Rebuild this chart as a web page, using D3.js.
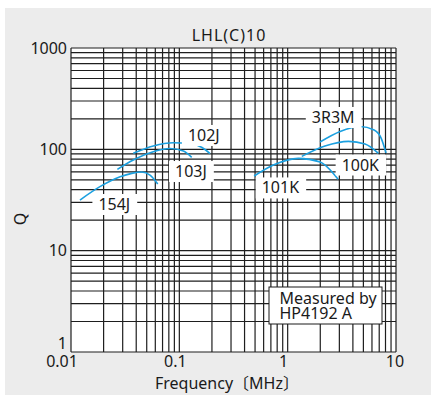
<!DOCTYPE html>
<html>
<head>
<meta charset="utf-8">
<script src="https://cdn.jsdelivr.net/npm/d3@7"></script>
<style>
  body { margin: 0; background: #fff; }
  text { font-family: "Noto Sans", "Noto Sans CJK JP", sans-serif; fill: #1a1a1a; }
</style>
</head>
<body>
<div id="chart"></div>
<script>
// axis ticks (labelled)
const freqTicks = [0.01, 0.1, 1, 10];
const freqTickText = ["0.01", "0.1", "1", "10"];
const qTicks = [1, 10, 100, 1000];
const qTickText = ["1", "10", "100", "1000"];

// curves: frequency (MHz) and Q
const names = ["154J", "103J", "102J", "101K", "100K", "3R3M"];
const f154J = [0.0121, 0.0185, 0.0284, 0.0364, 0.045, 0.0536, 0.0632];
const q154J = [31.6, 42.8, 53.6, 57.9, 59.7, 55.7, 45.5];
const f103J = [0.0268, 0.0376, 0.0575, 0.082, 0.109, 0.130];
const q103J = [63.5, 78.4, 94.7, 101.8, 96.2, 83.4];
const f102J = [0.0376, 0.0575, 0.088, 0.1256, 0.162, 0.192];
const q102J = [91.3, 107.8, 116.1, 114.1, 104.2, 90.9];
const f101K = [0.49, 0.738, 1.256, 1.99, 2.92];
const q101K = [54.5, 70.0, 81.5, 74.9, 50.6];
const f100K = [1.35, 2.21, 3.64, 5.18, 6.88];
const q100K = [85.2, 107.8, 119.9, 112.8, 91.3];
const f3R3M = [1.99, 3.05, 4.66, 6.28, 7.29, 8.10];
const q3R3M = [118.0, 149.9, 167.8, 155.0, 129.2, 91.9];

// where each curve name sits (frequency, Q of the text's left baseline)
const labelF = [0.0179, 0.0912, 0.120, 0.576, 3.15, 1.67];
const labelQ = [25.2, 53.3, 120.9, 36.7, 61.8, 182];

const seriesF = [f154J, f103J, f102J, f101K, f100K, f3R3M];
const seriesQ = [q154J, q103J, q102J, q101K, q100K, q3R3M];

const W = 431, H = 397;
const svg = d3.select("#chart").append("svg")
    .attr("width", W)
    .attr("height", H);

// grey panel
svg.append("rect")
    .attr("x", 5).attr("y", 8)
    .attr("width", W - 5).attr("height", 387)
    .attr("fill", "#ececec");

var x = d3.scaleLog().domain([0.01, 10]).range([71, 396]);
var y = d3.scaleLog().domain([1, 1000]).range([352, 48]);

// plot area
svg.append("rect")
    .attr("x", x(0.01)).attr("y", y(1000))
    .attr("width", x(10) - x(0.01))
    .attr("height", y(1) - y(1000))
    .attr("fill", "#fff");

// grid
var grid = svg.append("g").attr("stroke", "#1e1e1e").attr("stroke-width", 1.2);
grid.selectAll("line.v")
    .data(x.ticks())
    .enter().append("line")
    .attr("class", "v")
    .attr("x1", d => x(d)).attr("x2", d => x(d))
    .attr("y1", y(1000)).attr("y2", y(1));
grid.selectAll("line.h")
    .data(y.ticks())
    .enter().append("line")
    .attr("class", "h")
    .attr("x1", x(0.01)).attr("x2", x(10))
    .attr("y1", d => y(d)).attr("y2", d => y(d));

// curves
var line = d3.line()
    .x(d => x(d[0]))
    .y(d => y(d[1]))
    .curve(d3.curveMonotoneX);

names.forEach(function (n, i) {
    var pts = seriesF[i].map((f, j) => [f, seriesQ[i][j]]);
    svg.append("path")
        .datum(pts)
        .attr("d", line)
        .attr("fill", "none")
        .attr("stroke", "#1ba0e0")
        .attr("stroke-width", 1.6);
});

// curve labels on white boxes
names.forEach(function (n, i) {
    var g = svg.append("g");
    var t = g.append("text")
        .attr("x", x(labelF[i]))
        .attr("y", y(labelQ[i]))
        .attr("font-size", 16)
        .text(n);
    var b = t.node().getBBox();
    g.insert("rect", "text")
        .attr("x", b.x - 6).attr("y", b.y + 1)
        .attr("width", b.width + 13).attr("height", b.height - 1)
        .attr("fill", "#fff");
});

// axis labels
svg.selectAll("text.xt")
    .data(freqTicks)
    .enter().append("text")
    .attr("class", "xt")
    .attr("x", (d, i) => x(d) + [-9, -4, -4, -1][i])
    .attr("y", 367)
    .attr("text-anchor", "middle")
    .attr("font-size", 16)
    .text((d, i) => freqTickText[i]);

svg.selectAll("text.yt")
    .data(qTicks)
    .enter().append("text")
    .attr("class", "yt")
    .attr("x", 67)
    .attr("y", d => d === 1 ? y(d) - 3.5 : y(d) + 5.5)
    .attr("text-anchor", "end")
    .attr("font-size", 16)
    .text((d, i) => qTickText[i]);

svg.append("text")
    .attr("x", 229).attr("y", 40.5)
    .attr("text-anchor", "middle")
    .attr("font-size", 16)
    .attr("letter-spacing", 1)
    .text("LHL(C)10");

svg.append("text")
    .attr("x", 227).attr("y", 389)
    .attr("text-anchor", "middle")
    .attr("font-size", 16)
    .text("Frequency〔MHz〕");

svg.append("text")
    .attr("transform", "translate(26,219) rotate(-90)")
    .attr("text-anchor", "middle")
    .attr("font-size", 16)
    .text("Q");

// measurement note
svg.append("rect")
    .attr("x", 269).attr("y", 287)
    .attr("width", 113).attr("height", 37)
    .attr("fill", "#fff")
    .attr("stroke", "#1a1a1a")
    .attr("stroke-width", 1);
svg.append("text")
    .attr("x", 279.5).attr("y", 303.5)
    .attr("font-size", 16)
    .text("Measured by");
svg.append("text")
    .attr("x", 279.5).attr("y", 319)
    .attr("font-size", 16)
    .text("HP4192 A");
</script>
</body>
</html>
